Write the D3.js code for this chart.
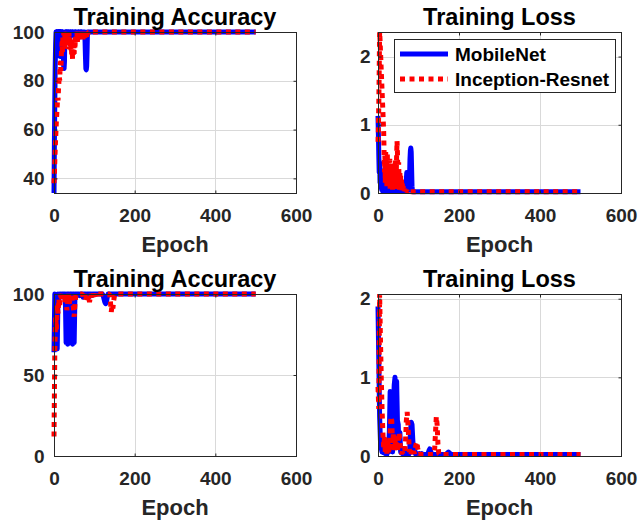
<!DOCTYPE html>
<html>
<head>
<meta charset="utf-8">
<script src="https://cdn.jsdelivr.net/npm/d3@7"></script>
<style>
  html, body { margin: 0; padding: 0; background: #fff; }
  svg { display: block; }
  text { font-family: "Liberation Sans", Arial, Helvetica, sans-serif; font-weight: bold; }
</style>
</head>
<body>
<svg id="chart" width="639" height="523"></svg>
<script>
// ---- epochs sampled in each row (dense early phase, then the last epoch) ----
const finalEpoch = 500;
const epochsTop = d3.range(0, 100).concat([finalEpoch]);        // every epoch 0..99
const epochsBottom = d3.range(0, 200, 2).concat([finalEpoch]);  // every 2nd epoch 0..198

const seriesNames = ["MobileNet", "Inception-Resnet"];
const panelTitles = ["Training Accuracy", "Training Loss", "Training Accuracy", "Training Loss"];
const xLabel = "Epoch";

const xTicks = [0, 200, 400, 600];
const yTicksAccTop = [40, 60, 80, 100];
const yTicksLossTop = [0, 1, 2];
const yTicksAccBottom = [0, 50, 100];
const yTicksLossBottom = [0, 1, 2];

// ---- run 1: accuracy (%) ----
const accTopMobile = [
  34, 55, 72, 86, 95, 100, 97, 100, 99, 100,
  100, 96, 100, 99, 100, 90, 100, 100, 98, 100,
  100, 95, 100, 92, 86, 85, 88, 100, 100, 99,
  100, 100, 98, 100, 100, 100, 99, 100, 100, 100,
  100, 98, 100, 100, 100, 100, 99, 100, 100, 100,
  100, 100, 100, 98, 100, 100, 100, 100, 100, 100,
  100, 99, 100, 100, 100, 100, 100, 98, 100, 100,
  100, 100, 100, 100, 100, 100, 100, 96, 90, 85,
  84.5, 86, 92, 100, 100, 100, 100, 100, 100, 100,
  100, 100, 100, 100, 100, 100, 100, 100, 100, 100,
  100
];
const accTopIncep = [
  38, 42, 47, 52, 56, 60, 64, 67, 70, 73,
  72, 76, 79, 82, 80, 85, 88, 84, 90, 93,
  96, 91, 98, 94, 100, 97, 93, 99, 96, 100,
  94, 98, 100, 95, 99, 97, 93, 100, 96, 98,
  94, 97, 92, 95, 90, 93, 89, 92, 90, 95,
  91, 97, 93, 98, 95, 99, 97, 100, 96, 99,
  100, 97, 99, 100, 98, 100, 97, 99, 100, 98,
  100, 99, 97, 100, 98, 100, 99, 97, 100, 99,
  100, 98, 100, 100, 99, 100, 100, 100, 100, 100,
  100, 100, 100, 100, 100, 100, 100, 100, 100, 100,
  100
];

// ---- run 1: loss ----
const lossTopMobile = [
  1.13, 0.85, 0.55, 0.3, 0.45, 0.15, 0.35, 0.08, 0.25, 0.05,
  0.18, 0.03, 0.22, 0.05, 0.3, 0.04, 0.15, 0.03, 0.2, 0.05,
  0.12, 0.03, 0.25, 0.1, 0.35, 0.05, 0.15, 0.03, 0.2, 0.04,
  0.1, 0.03, 0.15, 0.05, 0.08, 0.03, 0.12, 0.04, 0.1, 0.03,
  0.06, 0.03, 0.08, 0.03, 0.05, 0.1, 0.03, 0.06, 0.03, 0.05,
  0.03, 0.08, 0.03, 0.05, 0.03, 0.04, 0.03, 0.05, 0.03, 0.04,
  0.03, 0.03, 0.04, 0.03, 0.05, 0.03, 0.04, 0.03, 0.05, 0.1,
  0.2, 0.3, 0.28, 0.15, 0.05, 0.1, 0.04, 0.08, 0.25, 0.5,
  0.62, 0.66, 0.6, 0.35, 0.1, 0.03, 0.02, 0.02, 0.02, 0.02,
  0.02, 0.02, 0.02, 0.02, 0.02, 0.02, 0.02, 0.02, 0.02, 0.02,
  0.02
];
const lossTopIncep = [
  0.75, 0.95, 1.3, 1.8, 2.36, 2.25, 2.1, 1.95, 1.8, 1.65,
  1.5, 1.35, 1.2, 1.05, 0.9, 0.6, 0.3, 0.55, 0.15, 0.6,
  0.2, 0.45, 0.1, 0.58, 0.25, 0.5, 0.1, 0.4, 0.15, 0.5,
  0.05, 0.35, 0.2, 0.45, 0.1, 0.3, 0.05, 0.4, 0.15, 0.35,
  0.08, 0.3, 0.12, 0.5, 0.05, 0.25, 0.55, 0.76, 0.6, 0.3,
  0.1, 0.45, 0.2, 0.05, 0.3, 0.1, 0.25, 0.05, 0.2, 0.04,
  0.15, 0.03, 0.1, 0.05, 0.08, 0.03, 0.06, 0.02, 0.05, 0.03,
  0.04, 0.02, 0.03, 0.02, 0.03, 0.02, 0.02, 0.03, 0.02, 0.02,
  0.02, 0.02, 0.02, 0.02, 0.02, 0.02, 0.02, 0.02, 0.02, 0.02,
  0.02, 0.02, 0.02, 0.02, 0.02, 0.02, 0.02, 0.02, 0.02, 0.02,
  0.02
];

// ---- run 2: accuracy (%) ----
const accBottomMobile = [
  64, 100, 78, 97, 66, 100, 97, 100, 100, 99,
  100, 100, 98, 100, 100, 70, 100, 69, 100, 70,
  100, 71, 100, 69, 100, 70, 100, 98, 100, 100,
  100, 100, 99, 100, 100, 100, 98, 100, 100, 100,
  99, 100, 100, 98, 100, 100, 100, 99, 100, 100,
  100, 100, 100, 100, 100, 100, 100, 100, 100, 100,
  100, 99, 97, 95, 94, 95, 98, 100, 100, 100,
  100, 100, 100, 100, 100, 100, 100, 100, 100, 100,
  100, 100, 100, 100, 100, 100, 100, 100, 100, 100,
  100, 100, 100, 100, 100, 100, 100, 100, 100, 100,
  100
];
const accBottomIncep = [
  12, 65, 86, 78, 93, 88, 97, 92, 100, 96,
  99, 100, 97, 100, 95, 98, 90, 96, 100, 94,
  99, 97, 100, 95, 92, 86, 94, 99, 100, 100,
  100, 100, 100, 100, 100, 100, 99, 97, 100, 96,
  98, 100, 97, 99, 95, 98, 100, 97, 99, 100,
  97, 99, 100, 98, 100, 100, 100, 100, 100, 100,
  100, 100, 100, 100, 100, 100, 100, 100, 100, 100,
  95, 89, 93, 91, 96, 99, 100, 100, 100, 100,
  100, 100, 100, 100, 100, 100, 100, 100, 100, 100,
  100, 100, 100, 100, 100, 100, 100, 100, 100, 100,
  100
];

// ---- run 2: loss ----
const lossBottomMobile = [
  1.9, 1.2, 0.5, 0.2, 0.1, 0.05, 0.15, 0.04, 0.1, 0.03,
  0.08, 0.02, 0.1, 0.05, 0.3, 0.82, 0.1, 0.75, 0.05, 0.6,
  0.9, 1.0, 0.2, 0.95, 0.45, 0.4, 0.1, 0.3, 0.05, 0.1,
  0.03, 0.05, 0.02, 0.04, 0.03, 0.05, 0.02, 0.03, 0.02, 0.04,
  0.3, 0.43, 0.4, 0.2, 0.05, 0.1, 0.03, 0.02, 0.03, 0.02,
  0.02, 0.03, 0.02, 0.02, 0.03, 0.02, 0.02, 0.02, 0.02, 0.02,
  0.02, 0.02, 0.04, 0.07, 0.09, 0.06, 0.03, 0.02, 0.02, 0.02,
  0.02, 0.02, 0.02, 0.02, 0.02, 0.02, 0.02, 0.02, 0.02, 0.02,
  0.02, 0.02, 0.02, 0.02, 0.02, 0.03, 0.04, 0.05, 0.04, 0.03,
  0.02, 0.02, 0.02, 0.02, 0.02, 0.02, 0.02, 0.02, 0.02, 0.02,
  0.02
];
const lossBottomIncep = [
  0.88, 0.6, 2.06, 1.5, 1.0, 0.6, 0.3, 0.1, 0.25, 0.05,
  0.15, 0.03, 0.2, 0.05, 0.1, 0.3, 0.5, 0.45, 0.1, 0.3,
  0.05, 0.2, 0.1, 0.25, 0.05, 0.15, 0.3, 0.2, 0.05, 0.03,
  0.05, 0.02, 0.03, 0.05, 0.2, 0.45, 0.56, 0.4, 0.2, 0.05,
  0.1, 0.03, 0.05, 0.02, 0.06, 0.03, 0.1, 0.15, 0.18, 0.1,
  0.05, 0.02, 0.03, 0.02, 0.02, 0.02, 0.02, 0.02, 0.02, 0.02,
  0.02, 0.02, 0.02, 0.02, 0.02, 0.02, 0.02, 0.02, 0.02, 0.03,
  0.1, 0.3, 0.5, 0.4, 0.15, 0.03, 0.02, 0.02, 0.02, 0.02,
  0.02, 0.02, 0.02, 0.02, 0.02, 0.02, 0.02, 0.02, 0.02, 0.02,
  0.02, 0.02, 0.02, 0.02, 0.02, 0.02, 0.02, 0.02, 0.02, 0.02,
  0.02
];

// ---- subplot layout ----
const colX = [[54, 296], [378, 621]];
const rowY = [[32, 193], [294, 456]];
const INK = "#262626";
const GRID = "#d9d9d9";
const BLUE = "#0000ff";
const RED = "#ff0000";

const panels = [
  { col: 0, row: 0, title: panelTitles[0], epochs: epochsTop,
    series: [accTopMobile, accTopIncep], yTicks: yTicksAccTop,
    yDomain: [d3.min(accTopMobile.concat(accTopIncep)), 100], legend: false },
  { col: 1, row: 0, title: panelTitles[1], epochs: epochsTop,
    series: [lossTopMobile, lossTopIncep], yTicks: yTicksLossTop,
    yDomain: [0, d3.max(lossTopMobile.concat(lossTopIncep))], legend: true },
  { col: 0, row: 1, title: panelTitles[2], epochs: epochsBottom,
    series: [accBottomMobile, accBottomIncep], yTicks: yTicksAccBottom,
    yDomain: [0, 100], legend: false },
  { col: 1, row: 1, title: panelTitles[3], epochs: epochsBottom,
    series: [lossBottomMobile, lossBottomIncep], yTicks: yTicksLossBottom,
    yDomain: [0, d3.max(lossBottomMobile.concat(lossBottomIncep))], legend: false }
];

const lineStyles = [
  { color: BLUE, width: 5, dash: null, join: "round" },
  { color: RED, width: 5, dash: "5,4.5", join: "bevel" }
];

const svg = d3.select("#chart");

panels.forEach(p => {
  const [x0, x1] = colX[p.col];
  const [y0, y1] = rowY[p.row];
  const x = d3.scaleLinear().domain([0, 600]).range([x0, x1]);
  const y = d3.scaleLinear().domain(p.yDomain).range([y1, y0]);
  const g = svg.append("g");

  // grid
  g.append("g").selectAll("line").data(xTicks).join("line")
    .attr("x1", d => Math.round(x(d)) + 0.5).attr("x2", d => Math.round(x(d)) + 0.5)
    .attr("y1", y0).attr("y2", y1)
    .attr("stroke", GRID).attr("stroke-width", 1);
  g.append("g").selectAll("line").data(p.yTicks).join("line")
    .attr("x1", x0).attr("x2", x1)
    .attr("y1", d => Math.round(y(d)) + 0.5).attr("y2", d => Math.round(y(d)) + 0.5)
    .attr("stroke", GRID).attr("stroke-width", 1);

  // data lines
  const line = d3.line().x(d => x(d[0])).y(d => y(d[1]));
  p.series.forEach((vals, i) => {
    const st = lineStyles[i];
    g.append("path")
      .datum(d3.zip(p.epochs, vals))
      .attr("d", line)
      .attr("fill", "none")
      .attr("stroke", st.color)
      .attr("stroke-width", st.width)
      .attr("stroke-linejoin", st.join)
      .attr("stroke-linecap", "butt")
      .attr("stroke-dasharray", st.dash);
  });

  // axes (ticks point inward, mirrored on top and right)
  const fontAttrs = sel => sel
    .attr("font-family", "'Liberation Sans', Arial, Helvetica, sans-serif")
    .attr("font-weight", "bold").attr("font-size", 19).attr("color", INK);

  g.append("g").attr("transform", `translate(0,${y1 + 0.5})`)
    .call(d3.axisBottom(x).tickValues(xTicks).tickSize(-3).tickPadding(15).tickFormat(d3.format("d")))
    .call(fontAttrs).call(a => a.select(".domain").remove());
  g.append("g").attr("transform", `translate(0,${y0 + 0.5})`)
    .call(d3.axisTop(x).tickValues(xTicks).tickSize(-3).tickFormat(""))
    .call(fontAttrs).call(a => a.select(".domain").remove());
  g.append("g").attr("transform", `translate(${x0 + 0.5},0)`)
    .call(d3.axisLeft(y).tickValues(p.yTicks).tickSize(-3).tickPadding(p.col === 0 ? 10 : 8).tickFormat(d3.format("d")))
    .call(fontAttrs).call(a => a.select(".domain").remove());
  g.append("g").attr("transform", `translate(${x1 + 0.5},0)`)
    .call(d3.axisRight(y).tickValues(p.yTicks).tickSize(-3).tickFormat(""))
    .call(fontAttrs).call(a => a.select(".domain").remove());

  // box
  g.append("rect")
    .attr("x", x0 + 0.5).attr("y", y0 + 0.5)
    .attr("width", x1 - x0).attr("height", y1 - y0)
    .attr("fill", "none").attr("stroke", INK).attr("stroke-width", 1);

  // title and x label
  g.append("text")
    .attr("x", (x0 + x1) / 2).attr("y", y0 - 7)
    .attr("text-anchor", "middle").attr("font-size", 23.5).attr("fill", "#000")
    .text(p.title);
  g.append("text")
    .attr("x", (x0 + x1) / 2).attr("y", y1 + 59)
    .attr("text-anchor", "middle").attr("font-size", 22).attr("fill", INK)
    .text(xLabel);

  // legend
  if (p.legend) {
    const lx = 394, ly = 39, lw = 221, lh = 53;
    const lg = g.append("g");
    lg.append("rect")
      .attr("x", lx + 0.5).attr("y", ly + 0.5).attr("width", lw).attr("height", lh)
      .attr("fill", "#fff").attr("stroke", INK).attr("stroke-width", 1);
    seriesNames.forEach((name, i) => {
      const st = lineStyles[i];
      const cy = ly + 15 + i * 25;
      lg.append("line")
        .attr("x1", lx + 6).attr("x2", lx + 54).attr("y1", cy).attr("y2", cy)
        .attr("stroke", st.color).attr("stroke-width", st.width)
        .attr("stroke-dasharray", st.dash);
      lg.append("text")
        .attr("x", lx + 61).attr("y", cy + 7)
        .attr("font-size", 19).attr("fill", "#000")
        .text(name);
    });
  }
});
</script>
</body>
</html>
